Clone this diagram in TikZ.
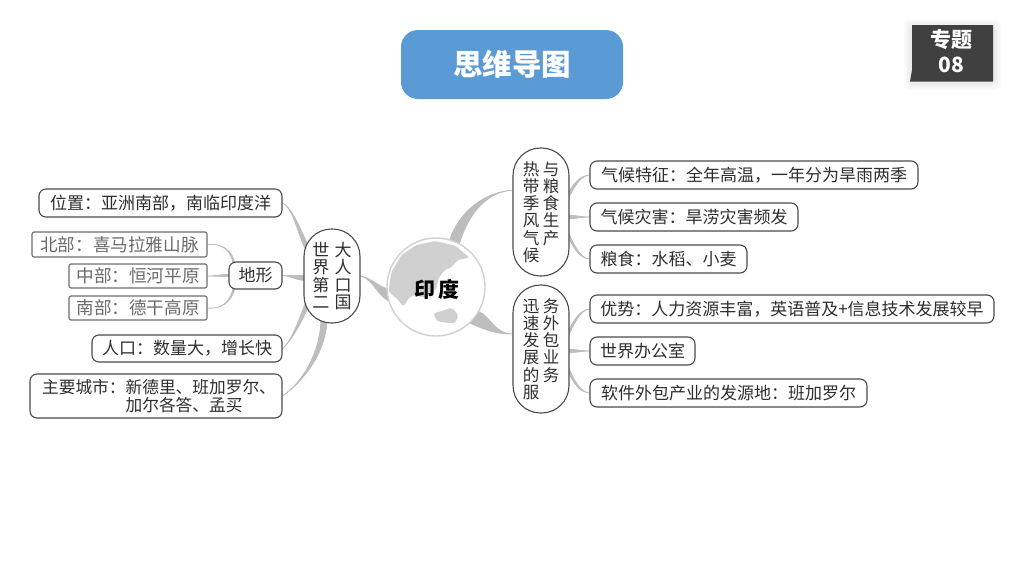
\documentclass[tikz,border=0pt]{standalone}
\usepackage{fontspec}
\setmainfont{Noto Sans CJK SC}
\usetikzlibrary{calc,backgrounds}
\definecolor{boxline}{HTML}{4A4A4A}
\definecolor{boxtext}{HTML}{2E2E2E}
\definecolor{paleline}{HTML}{6E6E6E}
\definecolor{paletext}{HTML}{6A6A6A}
\definecolor{conncol}{HTML}{BDBDBD}
\definecolor{titleblue}{HTML}{5B9BD5}
\definecolor{tagdark}{HTML}{404040}
\definecolor{landcol}{HTML}{D0D0D0}
\tikzset{
  leaf/.style={draw=boxline,line width=1.1pt,fill=white,rounded corners=7pt,inner sep=0pt,text=boxtext,
    font=\fontsize{17}{18}\selectfont},
  paleleaf/.style={draw=paleline,line width=1.1pt,fill=white,rounded corners=2pt,inner sep=0pt,text=paletext,
    font=\fontsize{17.6}{18}\selectfont},
  oval/.style={draw=boxline,line width=1.1pt,fill=white,rounded corners=27.5pt,inner sep=0pt,text=boxtext,
    minimum width=56pt,align=left},
  conn/.style={fill=conncol,draw=conncol,line width=0.8pt},
}
\newcommand{\taper}[5]{% thin end, wide end, half width, control 1, control 2
  \filldraw[conn] (#1) .. controls (#4) and ($(#5)+(#3)$) .. ($(#2)+(#3)$)
    -- ($(#2)-(#3)$) .. controls ($(#5)-(#3)$) and (#4) .. (#1) -- cycle;}
\begin{document}
\begin{tikzpicture}[x=1pt,y=-1pt]
\useasboundingbox (0,0) rectangle (1024,576);
% title
\node[fill=titleblue,rounded corners=17pt,minimum width=222pt,minimum height=69pt,inner sep=0pt,text=white,
  font=\fontsize{29.5}{30}\selectfont\bfseries] (title) at (512,64.5) {思维导图};
% tag shadow and tag
\foreach \g in {8,6.5,5,3.5,2}
  \fill[black,opacity=0.014,rounded corners=5pt] (912-\g,25-\g+2) rectangle (993+\g,81+\g+1);
\fill[tagdark] (912,25) -- (993,25) -- (993,81.5) -- (910,81.5) -- (912,70) -- cycle;
\node[text=white,inner sep=0pt,font=\fontsize{21}{22}\selectfont\bfseries] (tagA) at (951,39.5) {专题};
\node[text=white,inner sep=0pt,font=\fontsize{21}{22}\selectfont\bfseries] (tagB) at (951,65) {08};
% globe
\node[circle,draw=black!18,line width=1.4pt,fill=white,minimum size=98pt,inner sep=0pt] (globe) at (436,287) {};
\fill[landcol,rounded corners=1.5pt] (388.5,290) -- (391.5,272) -- (401.5,255) -- (416.5,245) -- (435,241) -- (455,245.5) -- (469.5,257.5)
  -- (458,260) -- (451.5,267) -- (445,270) -- (438.5,278) -- (436.5,288) -- (426.5,298) -- (413.5,295) -- (408.5,298.5)
  -- (403.5,306.5) -- (396.5,298.5) -- (390,293) -- cycle;
\fill[landcol,rounded corners=2pt] (433.5,313.5) -- (445,310) -- (451.5,307.5) -- (458.5,315) -- (455,323.5)
  -- (445,322.5) -- (436.5,321) -- cycle;
\node[inner sep=0pt,text=black,font=\fontsize{21}{22}\selectfont\bfseries] (yindu) at (437,289.5) {印\hspace{3pt}度};
% left branch
\node[oval,minimum height=94pt,font=\fontsize{17}{17.2}\selectfont] (pop) at (332,276)
  {世\hspace{5.5pt}大\\界\hspace{5.5pt}人\\第\hspace{5.5pt}口\\二\hspace{5.5pt}国};
\node[leaf,minimum width=243pt,minimum height=28pt] (loc) at (160.5,203) {位置：亚洲南部，南临印度洋};
\node[leaf,minimum width=53pt,minimum height=27pt] (terr) at (255.5,275.5) {地形};
\node[paleleaf,minimum width=175pt,minimum height=25pt] (north) at (119.5,244.5) {北部：喜马拉雅山脉};
\node[paleleaf,minimum width=138pt,minimum height=24pt] (mid) at (138,276) {中部：恒河平原};
\node[paleleaf,minimum width=138pt,minimum height=24pt] (south) at (138,308) {南部：德干高原};
\node[leaf,minimum width=190pt,minimum height=27pt] (people) at (187,348.5) {人口：数量大，增长快};
\node[leaf,minimum width=252pt,minimum height=44pt,align=left,font=\fontsize{16.7}{18}\selectfont] (city) at (156,396)
  {\hspace*{6pt}主要城市：新德里、班加罗尔、\\\hspace*{89.5pt}加尔各答、孟买};
% right branch 1
\node[oval,minimum height=128pt,font=\fontsize{16.5}{17.3}\selectfont] (mons) at (541,212)
  {热\hspace{3.5pt}与\\带\hspace{3.5pt}粮\\季\hspace{3.5pt}食\\风\hspace{3.5pt}生\\气\hspace{3.5pt}产\\候};
\node[leaf,minimum width=328pt,minimum height=28pt] (r1) at (754,175) {气候特征：全年高温，一年分为旱雨两季};
\node[leaf,minimum width=208pt,minimum height=28pt] (r2) at (694,217) {气候灾害：旱涝灾害频发};
\node[leaf,minimum width=157pt,minimum height=28pt] (r3) at (668.5,259) {粮食：水稻、小麦};
% right branch 2
\node[oval,minimum height=128pt,font=\fontsize{16.5}{17.3}\selectfont] (serv) at (541,349)
  {迅\hspace{3.5pt}务\\速\hspace{3.5pt}外\\发\hspace{3.5pt}包\\展\hspace{3.5pt}业\\的\hspace{3.5pt}务\\服};
\node[leaf,minimum width=404pt,minimum height=28pt] (r4) at (792,309) {优势：人力资源丰富，英语普及+信息技术发展较早};
\node[leaf,minimum width=105pt,minimum height=28pt] (r5) at (642.5,351) {世界办公室};
\node[leaf,minimum width=277pt,minimum height=28pt] (r6) at (728.5,393) {软件外包产业的发源地：班加罗尔};
% connectors
\begin{pgfonlayer}{background}
\fill[white] (0,0) rectangle (1024,576);
\taper{loc.east}{$(pop.west)+(6,-24)$}{2.5,0}{$(loc.east)+(12,6)$}{$(pop.west)+(-2,-36)$}
\taper{terr.east}{$(pop.west)+(3,2)$}{0,2.5}{$(terr.east)+(8,0)$}{$(pop.west)+(-8,2)$}
\taper{people.east}{$(pop.west)+(6,22)$}{2.5,0}{$(people.east)+(10,-8)$}{$(pop.west)+(1,36)$}
\taper{city.east}{$(pop.south)+(-8,-4)$}{3,0}{$(city.east)+(20,-14)$}{$(pop.south)+(-9,30)$}
\taper{north.east}{$(terr.west)+(6,-8)$}{1,0}{$(north.east)+(20,-2)$}{$(terr.west)+(6,-18)$}
\taper{mid.east}{terr.west}{0,1}{$(mid.east)+(8,0)$}{$(terr.west)+(-8,0)$}
\taper{south.east}{$(terr.west)+(6,8)$}{1,0}{$(south.east)+(20,2)$}{$(terr.west)+(6,18)$}
\taper{pop.east}{$(globe.west)+(6,9)$}{0,-6}{$(pop.east)+(12,2)$}{$(globe.west)+(-6,8)$}
\taper{$(mons.west)+(0,-22)$}{$(globe.north)+(17,10)$}{-5,-1.5}{$(mons.west)+(-24,-20)$}{$(globe.north)+(27,-28)$}
\taper{$(serv.west)+(0,-15)$}{$(globe.east)+(-12,30)$}{-4,6}{$(serv.west)+(-18,-15)$}{$(globe.east)+(2,36)$}
\taper{r1.west}{$(mons.east)+(-2,-15)$}{0,-2.5}{$(r1.west)+(-10,1)$}{$(mons.east)+(4,-26)$}
\taper{r2.west}{$(mons.east)+(-3,5)$}{0,1.8}{$(r2.west)+(-8,0)$}{$(mons.east)+(6,5)$}
\taper{r3.west}{$(mons.east)+(-2,21)$}{0,2.5}{$(r3.west)+(-10,-1)$}{$(mons.east)+(4,34)$}
\taper{r4.west}{$(serv.east)+(-2,-14)$}{0,-2.5}{$(r4.west)+(-10,1)$}{$(serv.east)+(4,-26)$}
\taper{r5.west}{$(serv.east)+(-3,2)$}{0,1.8}{$(r5.west)+(-8,0)$}{$(serv.east)+(6,2)$}
\taper{r6.west}{$(serv.east)+(-2,19)$}{0,2.5}{$(r6.west)+(-10,-1)$}{$(serv.east)+(4,32)$}
\end{pgfonlayer}
\end{tikzpicture}
\end{document}
